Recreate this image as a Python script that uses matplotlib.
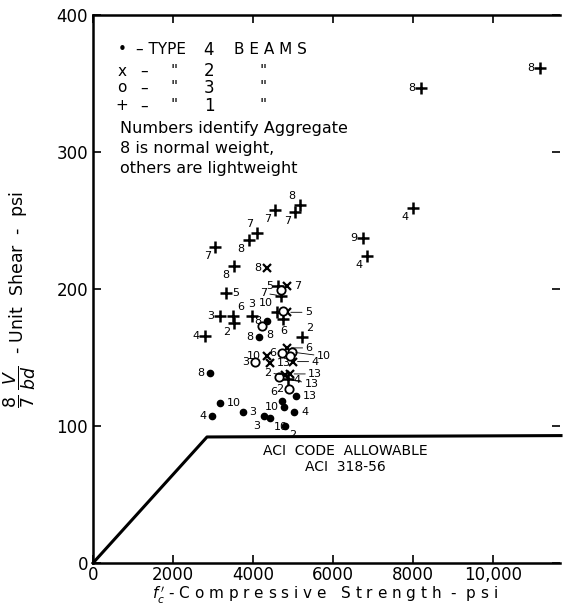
import matplotlib
matplotlib.use("Agg")
import matplotlib.pyplot as plt

# ---------------------------------------------------------------------------
# data (f'c in psi, 8/7 V/bd in psi, aggregate label)
# ---------------------------------------------------------------------------
# type 1 beams (+)
t1_fc = [11175, 8200, 8000, 6750, 6850, 5175, 5050, 4550, 4100, 3900, 3050, 3525,
         3317, 4633, 4700, 3175, 3492, 3533, 3967, 4608, 4758, 2800, 5217, 4867]
t1_v = [361, 347, 259, 237, 224, 261, 256, 258, 241, 236, 231, 217,
        197, 202, 195, 180, 180, 175, 180, 183, 178, 166, 165, 134]
t1_agg = ["8", "8", "4", "9", "4", "8", "7", "7", "7", "8", "7", "8",
          "5", "5", "7", "3", "6", "2", "3", "10", "6", "4", "2", "13"]

# type 2 beams (x)
t2_fc = [4350, 4842, 4842, 4342, 4858, 4425, 5008, 4800, 4925]
t2_v = [215, 202, 183, 151, 157, 146, 147, 137, 138]
t2_agg = ["8", "7", "5", "10", "6", "13", "4", "2", "13"]

# type 3 beams (o)
t3_fc = [4692, 4750, 4233, 4717, 4967, 4925, 4050, 4658, 4908]
t3_v = [199, 184, 173, 153, 154, 151, 147, 136, 127]
t3_agg = ["", "", "8", "6", "10", "", "3", "2", "4"]

# type 4 beams (dots)
t4_fc = [4358, 4150, 2925, 5075, 3175, 4717, 4775, 5025, 3742, 2967, 4275, 4425, 4800]
t4_v = [177, 165, 139, 122, 117, 118, 114, 110, 110, 107, 107, 106, 100]
t4_agg = ["8", "8", "8", "13", "10", "6", "10", "4", "3", "4", "3", "10", "2"]

# ACI 318-56 allowable
aci_fc = [0, 2850, 11700]
aci_v = [0, 92, 93]

x_ticks = [0, 2000, 4000, 6000, 8000, 10000]
x_ticklabels = ["0", "2000", "4000", "6000", "8000", "10,000"]
y_ticks = [0, 100, 200, 300, 400]

# label placement (offset points) per point, kept apart from the data
OFF = {
    "L": (-4, 0, "right", "center"), "R": (5, 0, "left", "center"),
    "UL": (-3, 3, "right", "bottom"), "LL": (-3, -3, "right", "top"),
    "UR": (3, 3, "left", "bottom"), "LR": (3, -3, "left", "top"),
    "B": (0, -5, "center", "top"), "U": (0, 5, "center", "bottom"),
    "FR": (13, 0, "left", "center"), "FL": (-10, 2, "right", "center"),
    "FLR": (12, -3, "left", "center"), "FFR": (18, -3, "left", "center"),
}
LEADERS = ("FR", "FL", "FLR", "FFR")
t1_pos = ["L", "L", "LL", "L", "LL", "UL", "LL", "LL", "UL", "LL", "LL", "LL",
          "R", "L", "FL", "L", "UR", "LL", "U", "UL", "B", "L", "UR", "FLR"]
t2_pos = ["L", "R", "FR", "L", "FR", "R", "FR", "FL", "FR"]
t3_pos = ["R", "R", "LR", "L", "FFR", "R", "L", "B", "UR"]
t4_pos = ["L", "L", "L", "R", "R", "UL", "L", "R", "R", "L", "LL", "LR", "LR"]

plt.rcParams["font.family"] = ["DejaVu Sans"]

fig = plt.figure(figsize=(5.64, 6.05), dpi=100)
ax = fig.add_axes([93 / 564, 42 / 605, 467 / 564, 548 / 605])

ax.plot(t1_fc, t1_v, "+", color="black", ms=8, mew=1.8)
ax.plot(t2_fc, t2_v, "x", color="black", ms=6, mew=1.6)
ax.plot(t3_fc, t3_v, "o", color="black", ms=6, mfc="white", mew=1.3)
ax.plot(t4_fc, t4_v, "o", color="black", ms=4.5)


def label_points(xs, ys, labs, poss):
    for x, y, lab, p in zip(xs, ys, labs, poss):
        if not lab:
            continue
        dx, dy, ha, va = OFF[p]
        arrow = None
        if p in LEADERS:
            arrow = dict(arrowstyle="-", lw=0.6, color="black", shrinkA=0, shrinkB=3)
        ax.annotate(lab, (x, y), xytext=(dx, dy), textcoords="offset points",
                    ha=ha, va=va, fontsize=8, arrowprops=arrow)


label_points(t1_fc, t1_v, t1_agg, t1_pos)
label_points(t2_fc, t2_v, t2_agg, t2_pos)
label_points(t3_fc, t3_v, t3_agg, t3_pos)
label_points(t4_fc, t4_v, t4_agg, t4_pos)

# ACI allowable line
ax.plot(aci_fc, aci_v, color="black", lw=2.2, clip_on=False)
ax.text(6300, 82, "ACI  CODE  ALLOWABLE", ha="center", va="center", fontsize=10)
ax.text(6300, 70, "ACI  318-56", ha="center", va="center", fontsize=10)


# legend block typed like the original
def fx(xp):
    return (xp - 93) / 467


def fy(yp):
    return (563 - yp) / 548


rows = [("•", "–TYPE", "4", "BEAMS", 50),
        ("x", "–", "2", '"', 71),
        ("o", "–", "3", '"', 88),
        ("+", "–", "1", '"', 106)]
for sym, dash, num, tail, yp in rows:
    kw = dict(transform=ax.transAxes, va="center", fontsize=11)
    ax.text(fx(122), fy(yp), sym, ha="center", **kw)
    if dash == "–TYPE":
        ax.text(fx(136), fy(yp), "– TYPE", ha="left", **kw)
        ax.text(fx(209), fy(yp), num, ha="center", fontsize=12,
                transform=ax.transAxes, va="center")
        ax.text(fx(234), fy(yp), "B E A M S", ha="left", **kw)
    else:
        ax.text(fx(140), fy(yp), dash, ha="left", **kw)
        ax.text(fx(174), fy(yp), '"', ha="center", **kw)
        ax.text(fx(209), fy(yp), num, ha="center", fontsize=12,
                transform=ax.transAxes, va="center")
        ax.text(fx(263), fy(yp), tail, ha="center", **kw)

for txt, yp in [("Numbers identify Aggregate", 128),
                ("8 is normal weight,", 149),
                ("others are lightweight", 168)]:
    ax.text(fx(120), fy(yp), txt, transform=ax.transAxes, ha="left",
            va="center", fontsize=11.5)

# axes styling
ax.set_xlim(0, 11675)
ax.set_ylim(0, 400)
ax.set_xticks(x_ticks)
ax.set_xticklabels(x_ticklabels)
ax.set_yticks(y_ticks)
ax.tick_params(axis="both", direction="in", length=6, width=1.2, labelsize=12,
               top=True, right=True)
ax.tick_params(axis="x", pad=2)
ax.spines["right"].set_visible(False)
for s in ("left", "bottom", "top"):
    ax.spines[s].set_linewidth(1.8)

fig.text(325 / 564, 1 - 595 / 605,
         r"$f_c^{\,\prime}$ - C o m p r e s s i v e   S t r e n g t h  -  p s i",
         ha="center", va="center", fontsize=11)
fig.text(20 / 564, 1 - 300 / 605,
         r"$\dfrac{8}{7}\ \dfrac{V}{bd}$  - Unit  Shear  -  psi",
         ha="center", va="center", rotation=90, fontsize=12.5)

fig.savefig("out.png", dpi=100)
